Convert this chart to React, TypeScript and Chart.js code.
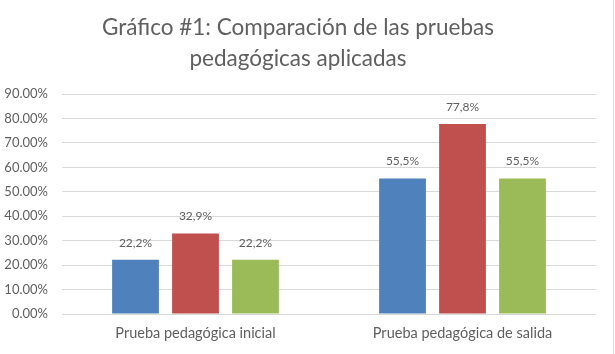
import React, { useEffect, useRef } from "react";
import { Chart, registerables } from "chart.js";

Chart.register(...registerables);

const categories = ["Prueba pedagógica inicial", "Prueba pedagógica de salida"];
const serieAzul = [22.2, 55.5];
const serieRoja = [32.9, 77.8];
const serieVerde = [22.2, 55.5];
const seriesNames = ["Serie 1", "Serie 2", "Serie 3"];
const seriesColors = ["#4F81BD", "#C0504D", "#9BBB59"];
const titleLines = ["Gráfico #1: Comparación de las pruebas", "pedagógicas aplicadas"];
const yMax = 90;
const yStep = 10;

const TEXT = "#606060";
const GRID = "#D9D9D9";
const FONT = "Lato, 'Open Sans', sans-serif";

// Writes each bar's value above it, with a decimal comma.
const valueLabels = {
  id: "valueLabels",
  afterDatasetsDraw(chart: any) {
    const ctx = chart.ctx;
    ctx.save();
    ctx.fillStyle = TEXT;
    ctx.font = `12px ${FONT}`;
    ctx.textAlign = "center";
    ctx.textBaseline = "middle";
    chart.data.datasets.forEach((ds: any, di: number) => {
      const meta = chart.getDatasetMeta(di);
      meta.data.forEach((bar: any, i: number) => {
        const v = ds.data[i] as number;
        const text = v.toFixed(1).replace(".", ",") + "%";
        ctx.fillText(text, bar.x, bar.y - 17);
      });
    });
    ctx.restore();
  },
};

// Thin frame line along the right edge of the chart box.
const frameEdge = {
  id: "frameEdge",
  afterDraw(chart: any) {
    const ctx = chart.ctx;
    ctx.save();
    ctx.strokeStyle = GRID;
    ctx.lineWidth = 1;
    ctx.beginPath();
    ctx.moveTo(613.5, 0);
    ctx.lineTo(613.5, chart.height);
    ctx.stroke();
    ctx.restore();
  },
};

export default function App() {
  const canvasRef = useRef<HTMLCanvasElement | null>(null);

  useEffect(() => {
    if (!canvasRef.current) return;
    const chart = new Chart(canvasRef.current, {
      type: "bar",
      data: {
        labels: categories,
        datasets: [serieAzul, serieRoja, serieVerde].map((d, i) => ({
          label: seriesNames[i],
          data: d,
          backgroundColor: seriesColors[i],
          borderWidth: 0,
          categoryPercentage: 0.674,
          barPercentage: 0.78,
        })),
      },
      options: {
        responsive: false,
        animation: false,
        layout: { padding: { left: 0, right: 19, top: 0, bottom: 8 } },
        plugins: {
          legend: { display: false },
          tooltip: { enabled: false },
          title: {
            display: true,
            text: titleLines,
            color: TEXT,
            font: { family: FONT, size: 22.5, weight: "normal", lineHeight: 1.38 },
            padding: { top: 12, bottom: 20 },
          },
        },
        scales: {
          x: {
            grid: { display: false, drawTicks: false },
            border: { display: false },
            ticks: { color: TEXT, font: { family: FONT, size: 14.5 }, padding: 11 },
            afterFit: (scale: any) => {
              scale.height = 32;
            },
          },
          y: {
            min: 0,
            max: yMax,
            grid: { color: GRID, drawTicks: false },
            border: { display: false },
            ticks: {
              stepSize: yStep,
              color: TEXT,
              font: { family: FONT, size: 13 },
              padding: 14,
              callback: (v: any) => Number(v).toFixed(2) + "%",
            },
            afterFit: (scale: any) => {
              scale.width = 62;
            },
          },
        },
      },
      plugins: [valueLabels, frameEdge],
    });
    return () => chart.destroy();
  }, []);

  return (
    <div style={{ position: "fixed", left: 0, top: 0, width: 615, height: 354, background: "#fff" }}>
      <canvas ref={canvasRef} width={615} height={354} />
    </div>
  );
}
